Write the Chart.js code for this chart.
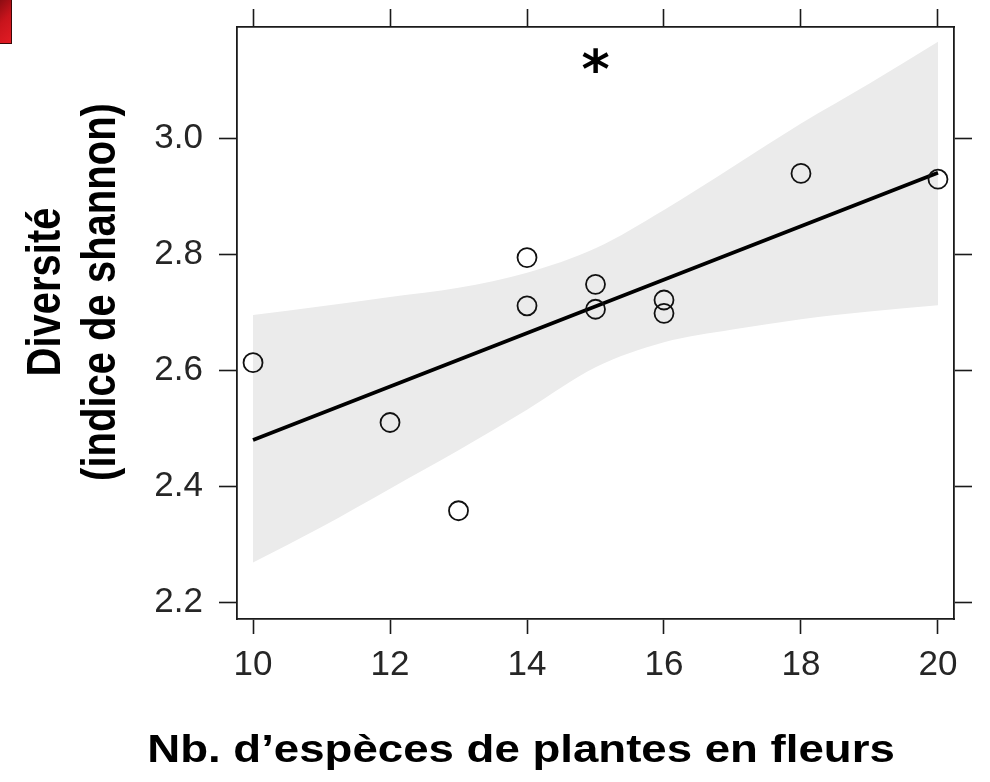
<!DOCTYPE html>
<html lang="fr">
<head>
<meta charset="utf-8">
<title>Diversité et nombre d'espèces de plantes en fleurs</title>
<script src="https://cdn.jsdelivr.net/npm/chart.js@4.4.1/dist/chart.umd.min.js"></script>
<style>
  html, body { margin: 0; padding: 0; background: #fff; }
  #wrap { position: relative; width: 990px; height: 782px; }
  #wrap canvas { position: absolute; left: 0; top: 0; }
  #tab {
    position: absolute; left: 0; top: 0; width: 11px; height: 43px;
    background: linear-gradient(135deg, #8c0c12 0%, #c8141c 45%, #e21c24 100%);
    border-right: 1px solid #3c0808; border-bottom: 1px solid #3c0808;
  }
</style>
</head>
<body>
<div id="wrap">
  <canvas id="chart" width="990" height="782"></canvas>
  <div id="tab"></div>
</div>
<script>
// Sites: number of flowering plant species and Shannon diversity
const plantSpecies = [10, 12, 13, 14, 14, 15, 15, 16, 16, 18, 20];
const shannonIndex = [2.613, 2.510, 2.358, 2.794, 2.711, 2.748, 2.705, 2.721, 2.698, 2.939, 2.929];

// Fitted trend (end points) and its confidence band
const fitX = [10, 20];
const fitY = [2.480, 2.940];
const bandX = [10, 11, 12, 13, 14, 15, 16, 17, 18, 19, 20];
const bandUpper = [2.695, 2.710, 2.726, 2.742, 2.768, 2.810, 2.876, 2.950, 3.025, 3.094, 3.166];
const bandLower = [2.269, 2.330, 2.396, 2.462, 2.532, 2.605, 2.648, 2.670, 2.688, 2.701, 2.712];

// Axis ticks
const xTicks = [10, 12, 14, 16, 18, 20];
const yTicks = [2.2, 2.4, 2.6, 2.8, 3.0];

// Texts
const xTitle = 'Nb. d\u2019espèces de plantes en fleurs';
const yTitle = ['Diversité', '(indice de shannon)'];
const signifMark = '*';
const signifAt = { x: 15, y: 3.134 };

const toPoints = (xs, ys) => xs.map((v, i) => ({ x: v, y: ys[i] }));
const fixedTicks = values => axis => { axis.ticks = values.map(v => ({ value: v })); };

const FONT = '"Liberation Sans", Arial, Helvetica, sans-serif';
const INK = '#1a1a1a';
const tickFont = { family: FONT, size: 35, lineHeight: 1.2 };

const frame = { display: true, color: INK, width: 1.8 };
const outerTicks = len => ({ drawOnChartArea: false, drawTicks: true, tickLength: len, tickColor: INK, tickWidth: 1.6 });

// Axis titles and the significance mark
const annotations = {
  id: 'annotations',
  afterDraw(chart) {
    const { ctx } = chart;
    const { x, y } = chart.scales;
    ctx.save();
    ctx.fillStyle = '#000';

    ctx.font = 'bold 54px "DejaVu Sans", sans-serif';
    ctx.textAlign = 'center';
    ctx.textBaseline = 'alphabetic';
    const m = ctx.measureText(signifMark);
    const cx = x.getPixelForValue(signifAt.x);
    const cy = y.getPixelForValue(signifAt.y);
    ctx.fillText(signifMark, cx, cy + (m.actualBoundingBoxAscent - m.actualBoundingBoxDescent) / 2);

    ctx.font = 'bold 40px ' + FONT;
    [[60, yTitle[0]], [115, yTitle[1]]].forEach(([bx, t]) => {
      ctx.save();
      ctx.translate(bx, 292);
      ctx.scale(1.18, 1);
      ctx.rotate(-Math.PI / 2);
      ctx.fillText(t, 0, 0);
      ctx.restore();
    });

    ctx.font = 'bold 38px ' + FONT;
    ctx.save();
    ctx.translate(521, 762);
    ctx.scale(1.2, 1);
    ctx.fillText(xTitle, 0, 0);
    ctx.restore();

    ctx.restore();
  }
};

const xRange = { min: 9.766, max: 20.234 };
const yRange = { min: 2.1715, max: 3.1912 };

new Chart(document.getElementById('chart'), {
  type: 'line',
  data: {
    datasets: [
      {
        label: 'Sites',
        data: toPoints(plantSpecies, shannonIndex),
        showLine: false,
        pointRadius: 9.5,
        pointBorderWidth: 1.8,
        pointBorderColor: '#111',
        pointBackgroundColor: 'rgba(0,0,0,0)',
        order: 0
      },
      {
        label: 'Tendance',
        data: toPoints(fitX, fitY),
        borderColor: '#000',
        borderWidth: 3.8,
        pointRadius: 0,
        fill: false,
        order: 1
      },
      {
        label: 'IC haut',
        data: toPoints(bandX, bandUpper),
        borderColor: 'rgba(0,0,0,0)',
        borderWidth: 0,
        pointRadius: 0,
        backgroundColor: '#ebebeb',
        fill: '+1',
        cubicInterpolationMode: 'monotone',
        order: 2
      },
      {
        label: 'IC bas',
        data: toPoints(bandX, bandLower),
        borderColor: 'rgba(0,0,0,0)',
        borderWidth: 0,
        pointRadius: 0,
        fill: false,
        cubicInterpolationMode: 'monotone',
        order: 3
      }
    ]
  },
  options: {
    responsive: false,
    animation: false,
    devicePixelRatio: 1,
    layout: { padding: 0 },
    plugins: { legend: { display: false }, tooltip: { enabled: false } },
    scales: {
      x: {
        type: 'linear', position: 'bottom', bounds: 'data', ...xRange,
        afterBuildTicks: fixedTicks(xTicks),
        afterFit(a) { a.height = 163; a.paddingLeft = 0; a.paddingRight = 0; },
        grid: outerTicks(15),
        border: frame,
        ticks: { font: tickFont, color: '#262626', padding: 10, maxRotation: 0, autoSkip: false, callback: v => String(v) }
      },
      x2: {
        type: 'linear', position: 'top', axis: 'x', bounds: 'data', ...xRange,
        afterBuildTicks: fixedTicks(xTicks),
        afterFit(a) { a.height = 27; a.paddingLeft = 0; a.paddingRight = 0; },
        grid: outerTicks(18),
        border: frame,
        ticks: { display: false }
      },
      y: {
        type: 'linear', position: 'left', bounds: 'data', ...yRange,
        afterBuildTicks: fixedTicks(yTicks),
        afterFit(a) { a.width = 237; a.paddingTop = 0; a.paddingBottom = 0; },
        grid: outerTicks(18),
        border: frame,
        ticks: { font: tickFont, color: '#262626', padding: 16, autoSkip: false, callback: v => Number(v).toFixed(1) }
      },
      y2: {
        type: 'linear', position: 'right', axis: 'y', bounds: 'data', ...yRange,
        afterBuildTicks: fixedTicks(yTicks),
        afterFit(a) { a.width = 36; a.paddingTop = 0; a.paddingBottom = 0; },
        grid: outerTicks(18),
        border: frame,
        ticks: { display: false }
      }
    }
  },
  plugins: [annotations]
});
</script>
</body>
</html>
